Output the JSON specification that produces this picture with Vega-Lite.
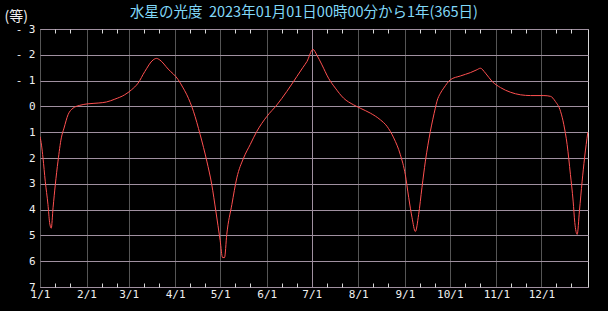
{
  "$schema": "https://vega.github.io/schema/vega-lite/v6.json",
  "width": 548,
  "height": 258,
  "autosize": "none",
  "padding": {"left": 40, "top": 29, "right": 20, "bottom": 24},
  "background": "#000000",
  "title": {
    "text": "水星の光度\u00a0\u00a02023年01月01日00時00分から1年(365日)",
    "color": "#80d8f8",
    "font": "Noto Sans CJK JP",
    "fontSize": 14.5,
    "fontWeight": "normal",
    "anchor": "middle",
    "frame": "group",
    "baseline": "alphabetic",
    "offset": 9,
    "dx": -10,
    "dy": 31
  },
  "config": {
    "view": {"stroke": "#d8d8d8", "strokeWidth": 1},
    "axis": {"labelFont": "DejaVu Sans Mono", "labelFontSize": 11, "labelColor": "#f0f0f0", "domain": false}
  },
  "data": {"values": [
    {"day": 0, "mag": 1.17}, {"day": 1, "mag": 1.5}, {"day": 2, "mag": 2.0}, {"day": 3.5, "mag": 2.9},
    {"day": 5.3, "mag": 3.8}, {"day": 6.4, "mag": 4.5}, {"day": 7.5, "mag": 4.72}, {"day": 8.7, "mag": 3.93},
    {"day": 10.2, "mag": 3.03}, {"day": 12, "mag": 2.12}, {"day": 14.2, "mag": 1.22}, {"day": 16, "mag": 0.84},
    {"day": 18.7, "mag": 0.32}, {"day": 22, "mag": 0.07}, {"day": 26.4, "mag": -0.04}, {"day": 32, "mag": -0.1},
    {"day": 38.7, "mag": -0.13}, {"day": 44.2, "mag": -0.17}, {"day": 49.8, "mag": -0.28}, {"day": 56.4, "mag": -0.45},
    {"day": 60.9, "mag": -0.64}, {"day": 65.3, "mag": -0.9}, {"day": 69.8, "mag": -1.35}, {"day": 75.3, "mag": -1.8},
    {"day": 77.6, "mag": -1.86}, {"day": 79.8, "mag": -1.8}, {"day": 85.3, "mag": -1.45}, {"day": 92, "mag": -1.04},
    {"day": 95, "mag": -0.75}, {"day": 97.8, "mag": -0.45}, {"day": 102.2, "mag": 0.19}, {"day": 106.7, "mag": 1.1},
    {"day": 111.1, "mag": 2.12}, {"day": 114.4, "mag": 3.03}, {"day": 117.1, "mag": 4.05}, {"day": 120, "mag": 5.2},
    {"day": 121.6, "mag": 5.86}, {"day": 122.9, "mag": 5.86}, {"day": 124.4, "mag": 4.96}, {"day": 127.8, "mag": 3.8},
    {"day": 131.1, "mag": 2.77}, {"day": 135.6, "mag": 2.0}, {"day": 140, "mag": 1.48}, {"day": 144.4, "mag": 0.97},
    {"day": 151.1, "mag": 0.39}, {"day": 157.8, "mag": -0.06}, {"day": 164.4, "mag": -0.58}, {"day": 171.1, "mag": -1.16},
    {"day": 175, "mag": -1.5}, {"day": 177.8, "mag": -1.74}, {"day": 181.8, "mag": -2.21}, {"day": 184.4, "mag": -1.99},
    {"day": 187.8, "mag": -1.61}, {"day": 192.2, "mag": -1.09}, {"day": 196.7, "mag": -0.71}, {"day": 202.2, "mag": -0.32},
    {"day": 208.9, "mag": -0.06}, {"day": 213.3, "mag": 0.07}, {"day": 220, "mag": 0.26}, {"day": 226.7, "mag": 0.52},
    {"day": 231.1, "mag": 0.77}, {"day": 235.6, "mag": 1.22}, {"day": 240, "mag": 1.87}, {"day": 243.3, "mag": 2.64},
    {"day": 245.6, "mag": 3.54}, {"day": 247.8, "mag": 4.31}, {"day": 250, "mag": 4.85}, {"day": 252.2, "mag": 4.19},
    {"day": 254.4, "mag": 3.15}, {"day": 256.7, "mag": 2.12}, {"day": 260, "mag": 0.97}, {"day": 263.3, "mag": 0.07},
    {"day": 264.4, "mag": -0.2}, {"day": 266.7, "mag": -0.51}, {"day": 268.9, "mag": -0.71}, {"day": 273.3, "mag": -1.03},
    {"day": 280, "mag": -1.18}, {"day": 286.7, "mag": -1.31}, {"day": 291, "mag": -1.42}, {"day": 293.3, "mag": -1.48},
    {"day": 296.7, "mag": -1.29}, {"day": 301.1, "mag": -0.97}, {"day": 306.7, "mag": -0.73}, {"day": 313.3, "mag": -0.55},
    {"day": 320, "mag": -0.45}, {"day": 326.7, "mag": -0.42}, {"day": 335.6, "mag": -0.42}, {"day": 340, "mag": -0.39},
    {"day": 343.3, "mag": -0.19}, {"day": 346.7, "mag": 0.19}, {"day": 348.9, "mag": 0.71}, {"day": 351.1, "mag": 1.48},
    {"day": 353.3, "mag": 2.64}, {"day": 355.1, "mag": 3.67}, {"day": 356.2, "mag": 4.5}, {"day": 357.8, "mag": 4.96},
    {"day": 359.3, "mag": 4.05}, {"day": 361.1, "mag": 2.9}, {"day": 362.7, "mag": 2.0}, {"day": 364.9, "mag": 1.0}
  ]},
  "layer": [
    {
      "mark": {"type": "line", "color": "#ff5050", "strokeWidth": 1, "interpolate": "monotone", "clip": true},
      "encoding": {
        "x": {
          "field": "day", "type": "quantitative",
          "scale": {"domain": [0, 365], "nice": false, "zero": false},
          "axis": {
            "orient": "bottom", "title": null,
            "values": [0, 10, 20, 31, 41, 51, 59, 69, 79, 90, 100, 110, 120, 130, 140, 151, 161, 171, 181, 191, 201, 212, 222, 232, 243, 253, 263, 273, 283, 293, 304, 314, 324, 334, 344, 354],
            "labelExpr": "indexof([0,31,59,90,120,151,181,212,243,273,304,334], datum.value) >= 0 ? (indexof([0,31,59,90,120,151,181,212,243,273,304,334], datum.value) + 1) + '/1' : ''",
            "labelFlush": false, "labelOverlap": false, "labelPadding": 5, "labelBaseline": "top",
            "tickSize": -4, "tickColor": "#d8d8d8",
            "tickOpacity": {"condition": {"test": "indexof([0,31,59,90,120,151,181,212,243,273,304,334], datum.value) >= 0", "value": 0}, "value": 1},
            "grid": true,
            "gridColor": {"condition": {"test": "datum.value == 181", "value": "#a090a0"}, "value": "#555555"},
            "gridOpacity": {"condition": {"test": "indexof([0,31,59,90,120,151,181,212,243,273,304,334], datum.value) >= 0", "value": 1}, "value": 0},
            "gridWidth": 1
          }
        },
        "y": {
          "field": "mag", "type": "quantitative",
          "scale": {"domain": [-3, 7], "reverse": true, "nice": false, "zero": false},
          "axis": {
            "values": [-3, -2, -1, 0, 1, 2, 3, 4, 5, 6, 7],
            "labelExpr": "datum.value < 0 ? '-\u00a0' + (-datum.value) : '' + datum.value",
            "labelFontSize": 11, "labelPadding": 5, "ticks": false,
            "grid": true, "gridColor": "#a090a0", "gridWidth": 1,
            "title": "(等)", "titleAngle": 0, "titleX": -36, "titleY": -9,
            "titleAlign": "left", "titleBaseline": "alphabetic",
            "titleFont": "Noto Sans CJK JP", "titleFontSize": 14, "titleFontWeight": "normal", "titleColor": "#f0f0f0"
          }
        }
      }
    },
    {
      "mark": {"type": "line", "strokeOpacity": 0},
      "encoding": {
        "x": {
          "field": "day", "type": "quantitative",
          "scale": {"domain": [0, 365], "nice": false, "zero": false},
          "axis": {
            "orient": "top", "title": null, "labels": false, "grid": false,
            "values": [10, 20, 41, 51, 69, 79, 100, 110, 130, 140, 161, 171, 191, 201, 222, 232, 253, 263, 283, 293, 314, 324, 344, 354],
            "tickSize": -4, "tickColor": "#d8d8d8"
          }
        },
        "y": {
          "field": "mag", "type": "quantitative",
          "scale": {"domain": [-3, 7], "reverse": true, "nice": false, "zero": false},
          "axis": null
        }
      }
    }
  ],
  "resolve": {"axis": {"x": "independent", "y": "independent"}}
}
